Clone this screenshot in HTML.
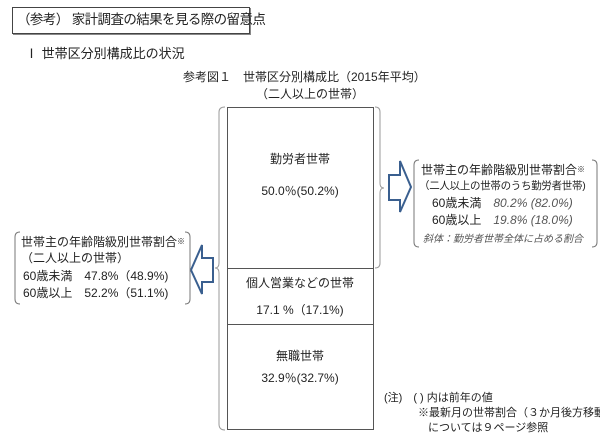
<!DOCTYPE html>
<html><head><meta charset="utf-8"><style>
body{margin:0;width:600px;height:447px;background:#fff;position:relative;overflow:hidden;font-family:"Liberation Sans","Noto Sans CJK JP",sans-serif;color:#222;}
.t{position:absolute;white-space:nowrap;font-size:12px;line-height:14px;}
.c{text-align:center;}
.i{font-style:italic;color:#555;}
</style></head><body>
<div style="position:absolute;left:12px;top:7px;width:236px;height:25px;border:1px solid #444;box-shadow:1px 1px 0 #888;"></div>
<div class="t" style="left:17px;top:11px;font-size:13.5px;line-height:18px;letter-spacing:-0.6px;">（参考） 家計調査の結果を見る際の留意点</div>
<div class="t" style="left:25px;top:47px;font-size:13px;">Ⅰ 世帯区分別構成比の状況</div>
<div class="t" style="left:183px;top:70px;">参考図１　世帯区分別構成比（2015年平均）</div>
<div class="t" style="left:256px;top:87px;">（二人以上の世帯）</div>

<div style="position:absolute;left:227px;top:107px;width:145px;height:321px;border:1px solid #555;"></div>
<div style="position:absolute;left:227px;top:268px;width:146px;border-top:1px solid #555;"></div>
<div style="position:absolute;left:227px;top:324px;width:146px;border-top:1px solid #555;"></div>
<div class="t c" style="left:227px;width:146px;top:152px;">勤労者世帯</div>
<div class="t c" style="left:227px;width:146px;top:184px;">50.0％(50.2%)</div>
<div class="t c" style="left:227px;width:146px;top:276px;">個人営業などの世帯</div>
<div class="t c" style="left:227px;width:146px;top:303px;">17.1 %（17.1%)</div>
<div class="t c" style="left:227px;width:146px;top:349px;">無職世帯</div>
<div class="t c" style="left:227px;width:146px;top:371px;">32.9％(32.7%)</div>

<svg width="600" height="447" style="position:absolute;left:0;top:0;" fill="none">
<path d="M225 107 Q219 107 219 112 L219 263 Q219 268 215 268 Q219 268 219 273 L219 424 Q219 430 225 430" stroke="#999" stroke-width="1"/>
<path d="M375 107 Q380 107 380 112 L380 183 Q380 188 384 188 Q380 188 380 193 L380 263 Q380 268 375 268" stroke="#999" stroke-width="1"/>
<path d="M389 175 L400 175 L400 161 L411 187 L400 212 L400 200 L389 200 Z" stroke="#3a5f8f" stroke-width="2" fill="#fff"/>
<path d="M213 258 L202 258 L202 245 L191 270 L202 294 L202 282 L213 282 Z" stroke="#3a5f8f" stroke-width="2" fill="#fff"/>
<path d="M419 160 Q414 160 414 165 L414 242 Q414 247 419 247" stroke="#777"/>
<path d="M592 160 Q597 160 597 165 L597 242 Q597 247 592 247" stroke="#777"/>
<path d="M20 232 Q15 232 15 237 L15 299 Q15 304 20 304" stroke="#777"/>
<path d="M185 232 Q190 232 190 237 L190 299 Q190 304 185 304" stroke="#777"/>
</svg>

<div class="t" style="left:421px;top:163px;">世帯主の年齢階級別世帯割合<span style="font-size:8px;vertical-align:top">※</span></div>
<div class="t" style="left:419px;top:179px;font-size:10.5px;letter-spacing:-0.3px;">（二人以上の世帯のうち勤労者世帯)</div>
<div class="t" style="left:432px;top:196px;">60歳未満　<span class="i">80.2% (82.0%)</span></div>
<div class="t" style="left:432px;top:213px;">60歳以上　<span class="i">19.8% (18.0%)</span></div>
<div class="t i" style="left:423px;top:233px;font-size:10px;">斜体：勤労者世帯全体に占める割合</div>

<div class="t" style="left:21px;top:235px;">世帯主の年齢階級別世帯割合<span style="font-size:8px;vertical-align:top">※</span></div>
<div class="t" style="left:21px;top:251px;">（二人以上の世帯）</div>
<div class="t" style="left:23px;top:269px;">60歳未満　47.8%（48.9%)</div>
<div class="t" style="left:23px;top:286px;">60歳以上　52.2%（51.1%)</div>

<div class="t" style="left:384px;top:391px;font-size:11px;">(注)　( ) 内は前年の値</div>
<div class="t" style="left:418px;top:406px;font-size:11px;width:182px;overflow:hidden;">※最新月の世帯割合（３か月後方移動平均）</div>
<div class="t" style="left:428px;top:421px;font-size:11px;">については９ページ参照</div>
</body></html>
